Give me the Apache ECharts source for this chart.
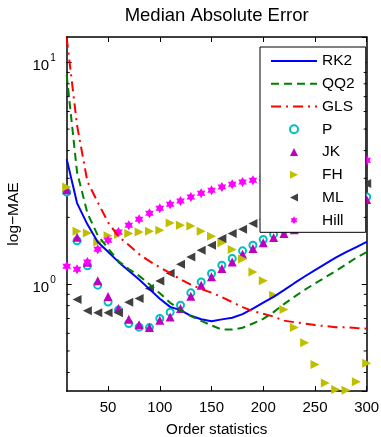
<!DOCTYPE html>
<html>
<head>
<meta charset="utf-8">
<script src="https://cdn.jsdelivr.net/npm/echarts@6/dist/echarts.min.js"></script>
<style>
  html, body { margin: 0; padding: 0; background: #fff; }
  #chart { width: 381px; height: 437px; }
</style>
</head>
<body>
<div id="chart"></div>
<script>
// Order statistic k used by every estimator
const orderStats = [10, 20, 30, 40, 50, 60, 70, 80, 90, 100,
                    110, 120, 130, 140, 150, 160, 170, 180, 190, 200,
                    210, 220, 230, 240, 250, 260, 270, 280, 290, 300];

// Median absolute error of each estimator at each k
const rk2 = [3.66, 2.32, 1.86, 1.55, 1.40, 1.26, 1.15, 1.05, 0.95, 0.86,
             0.79, 0.764, 0.72, 0.695, 0.68, 0.694, 0.706, 0.733, 0.776, 0.825,
             0.877, 0.94, 1.01, 1.083, 1.158, 1.235, 1.316, 1.394, 1.47, 1.55];
const qq2 = [8.74, 3.20, 2.09, 1.66, 1.45, 1.27, 1.17, 1.09, 1.0, 0.911,
             0.825, 0.764, 0.718, 0.683, 0.652, 0.624, 0.624, 0.636, 0.665, 0.698,
             0.748, 0.813, 0.877, 0.943, 1.007, 1.074, 1.146, 1.227, 1.318, 1.394];
const gls = [12.9, 5.2, 2.9, 2.34, 1.90, 1.64, 1.50, 1.365, 1.27, 1.19,
             1.12, 1.053, 0.995, 0.95, 0.916, 0.874, 0.83, 0.788, 0.756, 0.736,
             0.714, 0.685, 0.674, 0.664, 0.654, 0.647, 0.64, 0.64, 0.634, 0.63];
const pEst = [2.60, 1.57, 1.21, 0.99, 0.83, 0.764, 0.665, 0.64, 0.637, 0.701,
              0.748, 0.804, 0.914, 1.024, 1.117, 1.218, 1.305, 1.413, 1.498, 1.59,
              1.68, 1.751, 1.82, 1.9, 1.98, 2.07, 2.16, 2.26, 2.37, 2.474];
const jk = [2.665, 1.628, 1.256, 1.037, 0.88, 0.777, 0.694, 0.657, 0.637, 0.688,
            0.712, 0.777, 0.883, 0.99, 1.079, 1.177, 1.26, 1.365, 1.448, 1.535,
            1.623, 1.692, 1.76, 1.83, 1.9, 1.98, 2.06, 2.15, 2.25, 2.407];
const fh = [2.744, 1.733, 1.702, 1.55, 1.654, 1.675, 1.692, 1.72, 1.733, 1.751,
            1.887, 1.844, 1.83, 1.733, 1.645, 1.538, 1.433, 1.3, 1.136, 1.035,
            0.892, 0.769, 0.638, 0.544, 0.435, 0.359, 0.335, 0.333, 0.363, 0.44];
const ml = [null, 0.853, 0.758, 0.744, 0.744, 0.744, 0.828, 0.862, 0.956, 1.034,
            1.121, 1.228, 1.327, 1.423, 1.498, 1.606, 1.692, 1.769, 1.877, 1.95,
            2.03, 2.11, 2.19, 2.3, 2.4, 2.48, 2.57, 2.66, 2.75, 2.842];
const hill = [1.205, 1.168, 1.26, 1.438, 1.578, 1.72, 1.844, 1.963, 2.088, 2.199,
              2.293, 2.373, 2.474, 2.57, 2.651, 2.744, 2.822, 2.889, 2.941, 3.0,
              3.07, 3.12, 3.18, 3.24, 3.3, 3.36, 3.42, 3.5, 3.57, 3.62];

// Axis ticks
const xTickValues = [50, 100, 150, 200, 250, 300];
const yMinorTickValues = [0.4, 0.5, 0.6, 0.7, 0.8, 0.9, 2, 3, 4, 5, 6, 7, 8, 9];
const yRange = [0.33, 13];
const xRange = [10, 300];

const FONT = "'Liberation Sans', Arial, Helvetica, sans-serif";
const grid = { left: 66.7, right: 14.3, top: 37, bottom: 46 };
const W = 381;

const pairs = vals => orderStats
  .map((n, i) => [n, vals[i]])
  .filter(p => p[1] !== null);

// Marker outlines
const triUp = 'path://M5 0 L10 10 L0 10 Z';
const triRight = 'path://M0 0 L10 5 L0 10 Z';
const triLeft = 'path://M10 0 L0 5 L10 10 Z';
const hexagram = 'path://M10 0 L12.89 5 L18.66 5 L15.77 10 L18.66 15 L12.89 15 L10 20 L7.11 15 L1.34 15 L4.23 10 L1.34 5 L7.11 5 Z';

const axisLineStyle = { color: '#000', width: 1.5 };
const labelText = { fontFamily: FONT, fontSize: 15, color: '#000' };

function xAxisDef(position, withLabels) {
  return {
    type: 'value', min: xRange[0], max: xRange[1], position: position,
    axisLine: { show: true, onZero: false, lineStyle: axisLineStyle },
    axisTick: { show: true, inside: true, length: 5, customValues: xTickValues,
                lineStyle: { color: '#000', width: 1 } },
    axisLabel: withLabels
      ? Object.assign({ show: true, customValues: xTickValues, margin: 9 }, labelText)
      : { show: false },
    splitLine: { show: false }
  };
}

function yAxisDef(position, withLabels) {
  return {
    type: 'log', logBase: 10, min: yRange[0], max: yRange[1], position: position,
    axisLine: { show: true, onZero: false, lineStyle: axisLineStyle },
    axisTick: { show: true, inside: true, length: 5, lineStyle: { color: '#000', width: 1 } },
    axisLabel: withLabels ? {
      show: true, margin: 11, showMinLabel: false, showMaxLabel: false,
      padding: [7, 0, 0, 0],
      formatter: v => {
        const e = Math.round(Math.log10(v));
        if (Math.abs(Math.log10(v) - e) > 1e-6) return '';
        return '{b|10}{s|' + e + '}';
      },
      rich: {
        b: { fontFamily: FONT, fontSize: 15, lineHeight: 15, color: '#000', verticalAlign: 'bottom' },
        s: { fontFamily: FONT, fontSize: 10, lineHeight: 10, color: '#000', verticalAlign: 'bottom',
             padding: [0, 0, 10, 1] }
      }
    } : { show: false },
    splitLine: { show: false }
  };
}

const xBottom = xAxisDef('bottom', true);
xBottom.name = 'Order statistics';
xBottom.nameLocation = 'middle';
xBottom.nameGap = 31;
xBottom.nameTextStyle = Object.assign({}, labelText, { fontSize: 15.2 });

const yLeft = yAxisDef('left', true);
yLeft.name = 'log\u2212MAE';
yLeft.nameLocation = 'middle';
yLeft.nameGap = 33;
yLeft.nameRotate = 90;
yLeft.nameTextStyle = Object.assign({}, labelText, { fontSize: 15.5 });

// Legend entries: the line estimators show only their stroke,
// the point estimators show their marker
const lineEntry = name => ({ name: name, itemStyle: { opacity: 0 } });
const legendData = [
  lineEntry('RK2'), lineEntry('QQ2'), lineEntry('GLS'),
  { name: 'P', icon: 'emptyCircle' },
  { name: 'JK', icon: triUp },
  { name: 'FH', icon: triRight },
  { name: 'ML', icon: triLeft },
  { name: 'Hill', icon: hexagram }
];

const chart = echarts.init(document.getElementById('chart'), null, { renderer: 'canvas' });

const option = {
  animation: false,
  backgroundColor: '#fff',
  title: {
    text: 'Median Absolute Error',
    left: grid.left + (W - grid.left - grid.right) / 2 - 5,
    textAlign: 'center',
    top: 1,
    textStyle: { fontFamily: FONT, fontSize: 18.5, fontWeight: 'normal', color: '#000' }
  },
  grid: Object.assign({ containLabel: false, outerBoundsMode: 'none' }, grid),
  legend: {
    orient: 'vertical', left: 260, top: 47,
    padding: [5, 11, 3, 10],
    itemWidth: 46, itemHeight: 8, itemGap: 4.76,
    symbolKeepAspect: true,
    backgroundColor: '#fff', borderColor: '#000', borderWidth: 1, borderRadius: 0,
    selectedMode: false,
    textStyle: { fontFamily: FONT, fontSize: 15.5, lineHeight: 18, color: '#000' },
    data: legendData
  },
  xAxis: [xBottom, xAxisDef('top', false)],
  yAxis: [yLeft, yAxisDef('right', false)],
  series: [
    { name: 'RK2', type: 'line', data: pairs(rk2), symbol: 'none',
      lineStyle: { color: '#0000ff', width: 2 }, itemStyle: { color: '#0000ff' } },
    { name: 'QQ2', type: 'line', data: pairs(qq2), symbol: 'none',
      lineStyle: { color: '#008000', width: 2, type: [8, 5] }, itemStyle: { color: '#008000' } },
    { name: 'GLS', type: 'line', data: pairs(gls), symbol: 'none',
      lineStyle: { color: '#ff0000', width: 2, type: [10, 5, 2, 5] }, itemStyle: { color: '#ff0000' } },
    { name: 'P', type: 'scatter', data: pairs(pEst), symbol: 'emptyCircle', symbolSize: 7,
      itemStyle: { color: '#00bfbf', borderColor: '#00bfbf', borderWidth: 2, opacity: 1 } },
    { name: 'JK', type: 'scatter', data: pairs(jk), symbol: triUp, symbolSize: 9, symbolKeepAspect: true,
      itemStyle: { color: '#bf00bf', opacity: 1 } },
    { name: 'FH', type: 'scatter', data: pairs(fh), symbol: triRight, symbolSize: 9, symbolKeepAspect: true,
      itemStyle: { color: '#bfbf00', opacity: 1 } },
    { name: 'ML', type: 'scatter', data: pairs(ml), symbol: triLeft, symbolSize: 9, symbolKeepAspect: true,
      itemStyle: { color: '#404040', opacity: 1 } },
    { name: 'Hill', type: 'scatter', data: pairs(hill), symbol: hexagram, symbolSize: 10, symbolKeepAspect: true,
      itemStyle: { color: '#ff00ff', opacity: 1 } }
  ]
};

chart.setOption(option);

// Minor log ticks on the left and right frame edges
const xl = chart.convertToPixel({ xAxisIndex: 0 }, xRange[0]);
const xr = chart.convertToPixel({ xAxisIndex: 0 }, xRange[1]);
const minorTicks = [];
yMinorTickValues.forEach(v => {
  const y = chart.convertToPixel({ yAxisIndex: 0 }, v);
  minorTicks.push({ type: 'line', silent: true, z: 10,
    shape: { x1: xl, y1: y, x2: xl + 3, y2: y }, style: { stroke: '#000', lineWidth: 1 } });
  minorTicks.push({ type: 'line', silent: true, z: 10,
    shape: { x1: xr - 3, y1: y, x2: xr, y2: y }, style: { stroke: '#000', lineWidth: 1 } });
});
chart.setOption({ graphic: minorTicks });
</script>
</body>
</html>
